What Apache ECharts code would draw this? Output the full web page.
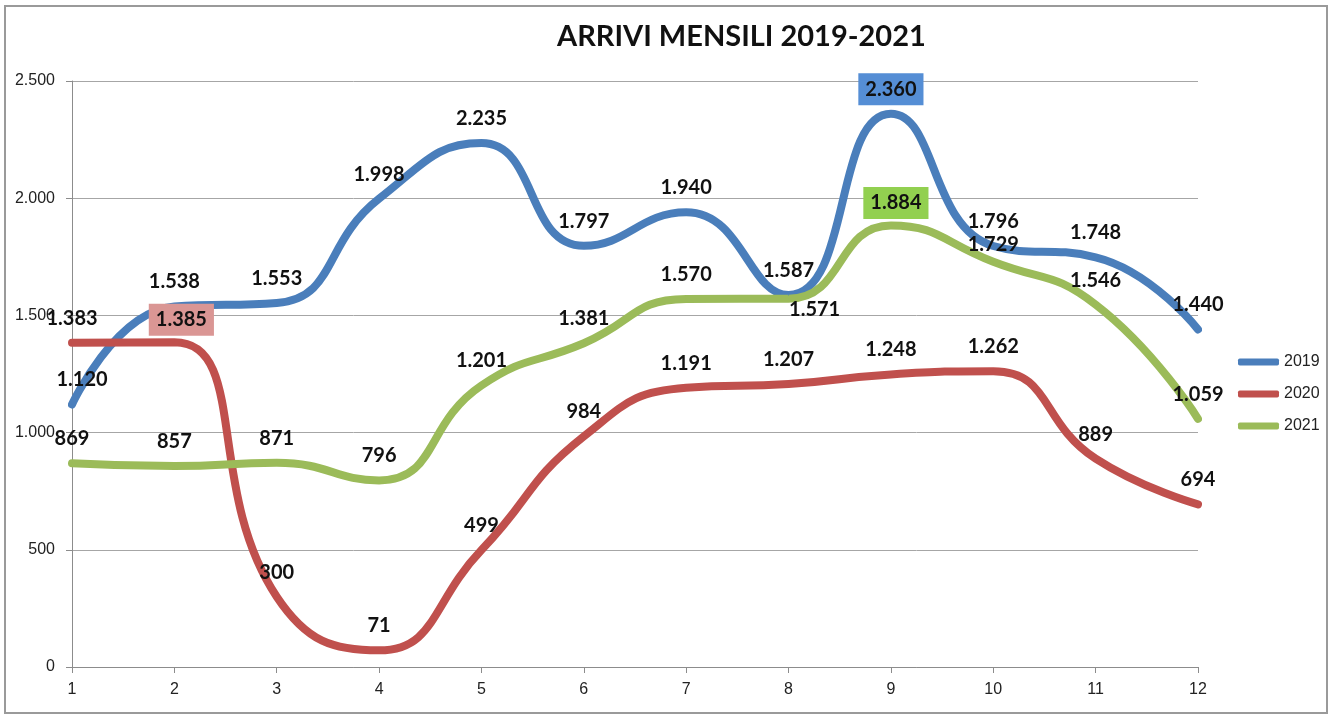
<!DOCTYPE html>
<html>
<head>
<meta charset="utf-8">
<script src="https://cdn.jsdelivr.net/npm/echarts@6/dist/echarts.min.js"></script>
<style>
  html, body { margin: 0; padding: 0; background: #fff; }
  #chart { width: 1331px; height: 715px; }
</style>
</head>
<body>
<div id="chart"></div>
<script>
// months and monthly arrivals
const months = ["1", "2", "3", "4", "5", "6", "7", "8", "9", "10", "11", "12"];
const arrivals2019 = [1120, 1538, 1553, 1998, 2235, 1797, 1940, 1587, 2360, 1796, 1748, 1440];
const arrivals2020 = [1383, 1385, 300, 71, 499, 984, 1191, 1207, 1248, 1262, 889, 694];
const arrivals2021 = [869, 857, 871, 796, 1201, 1381, 1570, 1571, 1884, 1729, 1546, 1059];

function fmt(v) {
  return String(v).replace(/\B(?=(\d{3})+(?!\d))/g, ".");
}

const labelBase = {
  show: true,
  position: "top",
  distance: 14,
  color: "#111",
  fontFamily: "Lato",
  fontWeight: "bold",
  fontSize: 20,
  lineHeight: 20,
  formatter: function (p) { return fmt(p.value); }
};

// per-point tweaks of data label placement
function boxed(bg, extra) {
  return Object.assign({ backgroundColor: bg, padding: [6, 7], distance: 8 }, extra || {});
}
const tweaks2019 = { 0: { offset: [10, 0] }, 8: boxed("#558ED5") };
const tweaks2020 = { 1: boxed("#DA9694", { offset: [7, 0], distance: 6 }) };
const tweaks2021 = {
  7: { position: "right", distance: 0, offset: [0, 11] },
  8: boxed("#92D050", { offset: [5, 0], distance: 6 }),
  9: { offset: [0, 7] }
};

function buildData(values, tweaks) {
  return values.map(function (v, i) {
    if (tweaks[i]) return { value: v, label: tweaks[i] };
    return v;
  });
}

function lineSeries(name, values, color, tweaks) {
  return {
    name: name,
    type: "line",
    smooth: 0.5,
    symbol: "circle",
    symbolSize: 1,
    data: buildData(values, tweaks),
    lineStyle: { width: 8, color: color, cap: "round" },
    itemStyle: { color: color },
    label: labelBase,
    emphasis: { disabled: true }
  };
}

const chart = echarts.init(document.getElementById("chart"), null, { renderer: "canvas" });
chart.setOption({
  animation: false,
  backgroundColor: "#fff",
  title: {
    text: "ARRIVI MENSILI 2019-2021",
    left: 552,
    top: 17,
    textStyle: { fontFamily: "Lato", fontWeight: "bold", fontSize: 29, color: "#111" }
  },
  graphic: [{
    type: "rect",
    shape: { x: 5, y: 6, width: 1322, height: 707 },
    style: { fill: "none", stroke: "#9a9a9a", lineWidth: 2 },
    silent: true
  }],
  legend: {
    orient: "vertical",
    left: 1233,
    top: 349,
    itemWidth: 41,
    itemHeight: 7,
    itemGap: 16,
    icon: "roundRect",
    textStyle: { fontFamily: "Liberation Sans", fontSize: 16, color: "#222" },
    data: ["2019", "2020", "2021"]
  },
  grid: { left: 72, right: 133, top: 81, bottom: 48 },
  xAxis: {
    type: "category",
    boundaryGap: false,
    data: months,
    axisLine: { lineStyle: { color: "#8c8c8c", width: 1 } },
    axisTick: { show: true, length: 6, lineStyle: { color: "#8c8c8c" } },
    axisLabel: { margin: 15, fontFamily: "Liberation Sans", fontSize: 16, color: "#222" }
  },
  yAxis: {
    type: "value",
    min: 0,
    max: 2500,
    interval: 500,
    axisLine: { show: true, lineStyle: { color: "#8c8c8c", width: 1 } },
    axisTick: { show: true, length: 6, lineStyle: { color: "#8c8c8c" } },
    splitLine: { lineStyle: { color: "#a6a6a6", width: 1 } },
    axisLabel: {
      margin: 17,
      fontFamily: "Liberation Sans",
      fontSize: 16,
      color: "#222",
      formatter: function (v) { return fmt(v); }
    }
  },
  series: [
    lineSeries("2019", arrivals2019, "#4A7EBB", tweaks2019),
    lineSeries("2020", arrivals2020, "#C0504D", tweaks2020),
    lineSeries("2021", arrivals2021, "#9BBB59", tweaks2021)
  ]
});
</script>
</body>
</html>
